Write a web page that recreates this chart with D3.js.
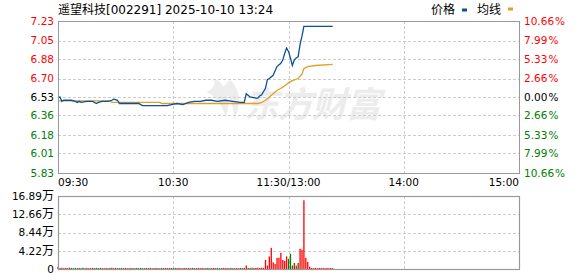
<!DOCTYPE html>
<html>
<head>
<meta charset="utf-8">
<script src="https://cdn.jsdelivr.net/npm/d3@7"></script>
<style>
  body { margin: 0; background: #fff; }
  svg { display: block; }
  text { font-family: "DejaVu Sans", "Noto Sans CJK SC", sans-serif; }
</style>
</head>
<body>
<div id="chart"></div>
<script>
// price ticks (left) and percent ticks (right)
const priceTicks = [7.23, 7.05, 6.88, 6.70, 6.53, 6.36, 6.18, 6.01, 5.83];
const pctTicks = ['10.66', '7.99', '5.33', '2.66', '0.00', '2.66', '5.33', '7.99', '10.66'];
const volTicks = [16.89, 12.66, 8.44, 4.22, 0];
const timeIdx = [0, 60, 120, 180, 240];
const timeLabels = ['09:30', '10:30', '11:30/13:00', '14:00', '15:00'];

// minute index (0 = 09:30, 120 = 11:30/13:00) and price
const priceIdx = [0, 1, 2, 3, 5, 7, 9, 10, 11, 12, 15, 18, 20, 21, 23, 26, 28, 29, 31, 32,
  36, 39, 42, 44, 48, 50, 54, 57, 59, 62, 65, 68, 71, 74, 77, 80, 83, 87, 91, 95,
  97, 98, 100, 103, 104, 105, 106, 108, 109, 110, 112, 114, 116, 117, 118, 119, 120, 121, 122, 123,
  124, 125, 126, 127, 128, 143];
const priceVal = [6.52, 6.53, 6.49, 6.50, 6.50, 6.50, 6.49, 6.48, 6.49, 6.48, 6.49, 6.49, 6.47, 6.48, 6.49, 6.49, 6.50, 6.51, 6.50, 6.47,
  6.47, 6.47, 6.47, 6.45, 6.45, 6.45, 6.45, 6.45, 6.46, 6.47, 6.46, 6.48, 6.49, 6.49, 6.50, 6.50, 6.49, 6.50, 6.49, 6.48,
  6.48, 6.56, 6.53, 6.52, 6.52, 6.54, 6.55, 6.61, 6.69, 6.70, 6.73, 6.81, 6.84, 6.87, 6.93, 6.98, 6.95, 6.89, 6.82, 6.87,
  6.89, 6.90, 7.01, 7.09, 7.18, 7.18];

// average price line
const avgIdx = [0, 27, 28, 53, 54, 104, 106, 108, 110, 112, 114, 117, 120, 122, 125, 127, 128, 130, 134, 143];
const avgVal = [6.495, 6.495, 6.48, 6.48, 6.47, 6.47, 6.48, 6.50, 6.53, 6.56, 6.59, 6.62, 6.66, 6.68, 6.70, 6.74, 6.79, 6.81, 6.82, 6.83];

// volume per minute (万), r = up, g = down
const volume = [
  0.50, 0.25, 0.30, 0.20, 0.25, 0.20, 0.30, 0.25, 0.20, 0.25,
  0.20, 0.25, 0.20, 0.30, 0.20, 0.25, 0.20, 0.20, 0.25, 0.20,
  0.25, 0.20, 0.25, 0.20, 0.20, 0.25, 0.20, 0.25, 0.30, 0.20,
  0.25, 0.20, 0.20, 0.25, 0.20, 0.25, 0.20, 0.20, 0.25, 0.20,
  0.20, 0.25, 0.20, 0.25, 0.20, 0.20, 0.25, 0.20, 0.25, 0.20,
  0.20, 0.25, 0.20, 0.20, 0.25, 0.20, 0.25, 0.20, 0.20, 0.25,
  0.20, 0.25, 0.20, 0.25, 0.20, 0.20, 0.25, 0.20, 0.25, 0.20,
  0.25, 0.20, 0.20, 0.25, 0.20, 0.25, 0.20, 0.20, 0.25, 0.20,
  0.20, 0.25, 0.20, 0.25, 0.20, 0.20, 0.25, 0.20, 0.25, 0.20,
  0.25, 0.20, 0.20, 0.25, 0.20, 0.25, 0.20, 0.25, 0.80, 0.25,
  0.25, 0.30, 0.25, 0.25, 0.30, 0.25, 0.30, 0.25, 2.10, 0.78,
  2.90, 4.90, 1.57, 1.17, 2.58, 2.58, 3.75, 2.10, 1.88, 2.90,
  2.35, 3.52, 0.78, 1.41, 0.78, 1.41, 4.69, 4.46, 15.90, 2.58,
  1.64, 0.55, 0.25, 0.20, 0.25, 0.20, 0.25, 0.20, 0.25, 0.20,
  0.25, 0.20, 0.25, 0.20
];
const volDir = ('grrgrrrggg' + 'grggrrgrrg' + 'gggrrrggrr' + 'rgggrrgrrg' + 'ggrgggrrgg' +
  'rrgrggrrrg' + 'ggrrrgrrgr' + 'rggrrrgrgg' + 'rrgggrrgrr' + 'ggrrrgrgrr' +
  'ggrrrrrrrr' + 'rrrrrrrrrr' + 'gggrrgrrrr' + 'rrrrrrrrrr' + 'rrrr').split('');

const width = 578, height = 276;
const main = { left: 58, right: 519, top: 21, bottom: 173 };
const vol = { top: 196, bottom: 269 };

const red = '#ff0000', green = '#008000', grid = '#cccccc', frame = '#999999';

const svg = d3.select('#chart').append('svg')
  .attr('width', width)
  .attr('height', height);

svg.append('rect').attr('width', width).attr('height', height).attr('fill', '#fff');

const x = d3.scaleLinear().domain([0, 240]).range([main.left, main.right]);
const yP = d3.scaleLinear().domain([5.83, 7.23]).range([main.bottom, main.top]);
const yV = d3.scaleLinear().domain([0, 16.89]).range([vol.bottom, vol.top]);

const crisp = (v) => Math.round(v) + 0.5;

// watermark
const wm = svg.append('g').attr('fill', '#ececec');
wm.append('path')
  .attr('d', 'M214,78 C226,84 232,98 226,118 C222,104 216,96 206,92 C212,90 216,86 214,78 Z ' +
    'M230,80 C240,88 242,104 234,120 C234,106 230,96 222,88 Z')
  .attr('fill', '#ededed');
wm.append('text')
  .attr('x', 244).attr('y', 117)
  .attr('font-size', 35).attr('font-weight', 'bold').attr('font-style', 'italic')
  .attr('font-family', '"Noto Sans CJK SC", sans-serif')
  .attr('letter-spacing', -1)
  .text('东方财富');

// grid, main panel
const gMain = svg.append('g').attr('stroke', grid).attr('stroke-dasharray', '3,2');
gMain.selectAll('.hgrid')
  .data(priceTicks.slice(1, -1))
  .enter().append('line')
  .attr('x1', main.left).attr('x2', main.right)
  .attr('y1', (d) => crisp(yP(d))).attr('y2', (d) => crisp(yP(d)));
gMain.selectAll('.vgrid')
  .data(timeIdx.slice(1, -1))
  .enter().append('line')
  .attr('x1', (d) => crisp(x(d))).attr('x2', (d) => crisp(x(d)))
  .attr('y1', main.top).attr('y2', main.bottom);

// grid, volume panel
const gVol = svg.append('g').attr('stroke', grid).attr('stroke-dasharray', '3,2');
gVol.selectAll('.hgrid')
  .data(volTicks.slice(1, -1))
  .enter().append('line')
  .attr('x1', main.left).attr('x2', main.right)
  .attr('y1', (d) => crisp(yV(d))).attr('y2', (d) => crisp(yV(d)));
gVol.selectAll('.vgrid')
  .data(timeIdx.slice(1, -1))
  .enter().append('line')
  .attr('x1', (d) => crisp(x(d))).attr('x2', (d) => crisp(x(d)))
  .attr('y1', vol.top).attr('y2', vol.bottom);

// volume bars
svg.append('g').selectAll('rect')
  .data(volume)
  .enter().append('rect')
  .attr('x', (d, i) => x(i) - 0.6)
  .attr('width', 1.3)
  .attr('y', (d) => yV(d))
  .attr('height', (d) => yV(0) - yV(d))
  .attr('fill', (d, i) => volDir[i] === 'r' ? red : green);

// lines
const avgLine = d3.line().x((d) => x(d[0])).y((d) => yP(d[1]));
svg.append('path')
  .datum(d3.zip(avgIdx, avgVal))
  .attr('fill', 'none').attr('stroke', '#e0a020').attr('stroke-width', 1.3)
  .attr('d', avgLine);
svg.append('path')
  .datum(d3.zip(priceIdx, priceVal))
  .attr('fill', 'none').attr('stroke', '#0b4ea2').attr('stroke-width', 1.3)
  .attr('d', avgLine);

// frames
svg.append('rect')
  .attr('x', main.left + 0.5).attr('y', main.top + 0.5)
  .attr('width', main.right - main.left).attr('height', main.bottom - main.top)
  .attr('fill', 'none').attr('stroke', frame);
svg.append('rect')
  .attr('x', main.left + 0.5).attr('y', vol.top + 0.5)
  .attr('width', main.right - main.left).attr('height', vol.bottom - vol.top)
  .attr('fill', 'none').attr('stroke', frame).attr('stroke-width', 1.2);

const tickColor = (i) => i < 4 ? red : (i === 4 ? '#000' : green);

// left price labels
svg.append('g').selectAll('text')
  .data(priceTicks)
  .enter().append('text')
  .attr('x', main.left - 4)
  .attr('y', (d) => yP(d))
  .attr('dy', '0.36em')
  .attr('text-anchor', 'end')
  .attr('font-size', 10.5)
  .attr('fill', (d, i) => tickColor(i))
  .text((d) => d.toFixed(2));

// right percent labels
const pct = svg.append('g').selectAll('text')
  .data(pctTicks)
  .enter().append('text')
  .attr('x', main.right + 5)
  .attr('y', (d, i) => yP(priceTicks[i]))
  .attr('dy', '0.36em')
  .attr('font-size', 10.5)
  .attr('fill', (d, i) => tickColor(i));
pct.append('tspan').text((d) => d);
pct.append('tspan').attr('dx', 1).text('%');

// volume labels
const vLab = svg.append('g').selectAll('text')
  .data(volTicks)
  .enter().append('text')
  .attr('x', main.left - 4)
  .attr('y', (d) => yV(d))
  .attr('dy', '0.36em')
  .attr('text-anchor', 'end')
  .attr('font-size', 10.5)
  .attr('fill', '#000');
vLab.append('tspan').text((d) => d === 0 ? '0' : d.toFixed(2));
vLab.filter((d) => d !== 0).append('tspan')
  .attr('font-size', 12).attr('font-family', '"Noto Sans CJK SC", sans-serif')
  .text('万');

// time labels
svg.append('g').selectAll('text')
  .data(timeIdx)
  .enter().append('text')
  .attr('x', (d) => x(d))
  .attr('y', main.bottom + 13)
  .attr('font-size', 10.5)
  .attr('fill', '#000')
  .attr('text-anchor', (d, i) => i === 0 ? 'start' : (i === timeIdx.length - 1 ? 'end' : 'middle'))
  .text((d, i) => timeLabels[i]);

// title and legend
svg.append('text')
  .attr('x', main.left).attr('y', 14)
  .attr('font-size', 12)
  .attr('font-family', '"Noto Sans CJK SC", sans-serif')
  .attr('fill', '#000')
  .text('遥望科技[002291] 2025-10-10 13:24');

const legend = svg.append('g').attr('font-size', 12).attr('font-family', '"Noto Sans CJK SC", sans-serif');
legend.append('text').attr('x', 431).attr('y', 14).text('价格');
legend.append('rect').attr('x', 462).attr('y', 8.5).attr('width', 5).attr('height', 3).attr('fill', '#0b4ea2');
legend.append('text').attr('x', 477).attr('y', 14).text('均线');
legend.append('rect').attr('x', 508).attr('y', 7.5).attr('width', 5).attr('height', 3).attr('fill', '#e0a020');
</script>
</body>
</html>
